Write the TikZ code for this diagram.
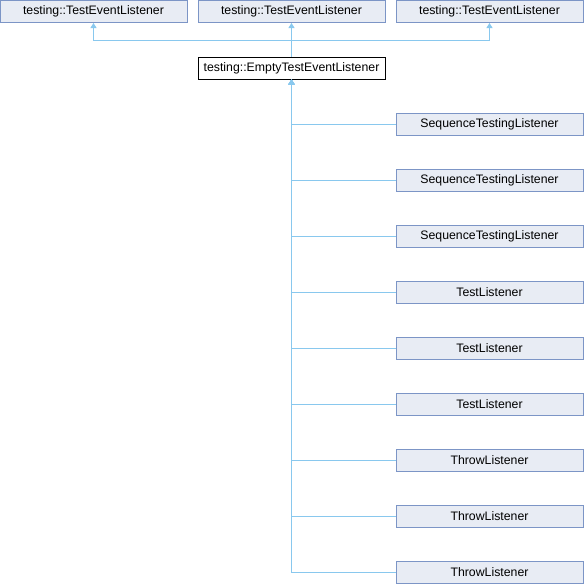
\documentclass[tikz,border=0pt]{standalone}
\usepackage{fontspec}
\setmainfont{Liberation Sans}
\usetikzlibrary{arrows.meta}
\definecolor{boxfill}{RGB}{232,236,244}
\definecolor{boxdraw}{RGB}{124,149,198}
\definecolor{edgecol}{RGB}{137,200,238}
\begin{document}
\begin{tikzpicture}[x=1pt,y=-1pt,
  cls/.style={draw=boxdraw,fill=boxfill,line width=1pt,minimum width=187pt,minimum height=22pt,inner sep=0pt,font=\fontsize{12.3}{13}\selectfont,anchor=center},
  cur/.style={cls,draw=black,fill=white},
  inh/.style={draw=edgecol,line width=1pt,-{Triangle[width=6pt,length=5pt]}}]
\useasboundingbox (0,0) rectangle (584,584);
\node[cls] (b1) at (93.5,11.5) {testing::TestEventListener};
\node[cls] (b2) at (291.5,11.5) {testing::TestEventListener};
\node[cls] (b3) at (489.5,11.5) {testing::TestEventListener};
\node[cur] (e) at (291.5,68) {testing::EmptyTestEventListener};
\coordinate (j) at (291.5,40);
\draw[inh] (e.north) -- (j) -| (b1.south);
\draw[inh] (e.north) -- (b2.south);
\draw[inh] (e.north) -- (j) -| (b3.south);
\foreach \i/\t in {1/SequenceTestingListener,2/SequenceTestingListener,3/SequenceTestingListener,4/TestListener,5/TestListener,6/TestListener,7/ThrowListener,8/ThrowListener,9/ThrowListener}{
  \node[cls] (c\i) at (489.5,{124+56*(\i-1)}) {\t};
  \draw[inh] (c\i.west) -| (e.south);
}
\end{tikzpicture}
\end{document}
